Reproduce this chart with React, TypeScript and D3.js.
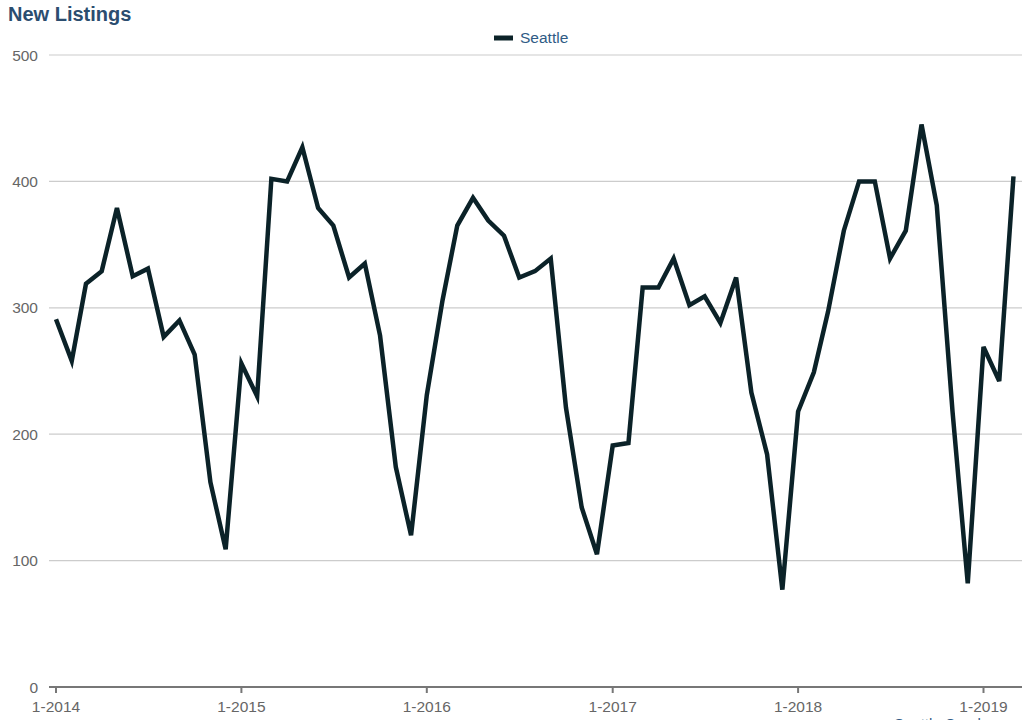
import React from "react";
import * as d3 from "d3";

const months: string[] = [
  "2014-01","2014-02","2014-03","2014-04","2014-05","2014-06","2014-07","2014-08","2014-09","2014-10","2014-11","2014-12",
  "2015-01","2015-02","2015-03","2015-04","2015-05","2015-06","2015-07","2015-08","2015-09","2015-10","2015-11","2015-12",
  "2016-01","2016-02","2016-03","2016-04","2016-05","2016-06","2016-07","2016-08","2016-09","2016-10","2016-11","2016-12",
  "2017-01","2017-02","2017-03","2017-04","2017-05","2017-06","2017-07","2017-08","2017-09","2017-10","2017-11","2017-12",
  "2018-01","2018-02","2018-03","2018-04","2018-05","2018-06","2018-07","2018-08","2018-09","2018-10","2018-11","2018-12",
  "2019-01","2019-02","2019-03",
];

const seattle: number[] = [
  291, 258, 319, 329, 379, 325, 331, 277, 290, 263, 162, 109,
  256, 230, 402, 400, 427, 379, 365, 324, 335, 278, 174, 120,
  231, 306, 365, 387, 369, 357, 324, 329, 339, 221, 142, 105,
  191, 193, 316, 316, 339, 302, 309, 288, 324, 233, 184, 77,
  218, 249, 297, 361, 400, 400, 339, 361, 445, 381, 218, 82,
  269, 242, 404,
];

const yTicks: number[] = [0, 100, 200, 300, 400, 500];
const xTickLabels: string[] = ["1-2014", "1-2015", "1-2016", "1-2017", "1-2018", "1-2019"];
const xTickMonths: string[] = ["2014-01", "2015-01", "2016-01", "2017-01", "2018-01", "2019-01"];

const parse = d3.timeParse("%Y-%m");

export default function App() {
  const W = 1024;
  const H = 720;
  const left = 49;
  const right = 1022;
  const x = d3
    .scaleTime()
    .domain([parse("2014-01")!, parse("2019-01")!])
    .range([56, 983.5]);
  const y = d3.scaleLinear().domain([0, 500]).range([687, 55]);

  const data = months.map((m, i) => ({ d: parse(m)!, v: seattle[i] }));
  const line = d3
    .line<{ d: Date; v: number }>()
    .x((p) => x(p.d))
    .y((p) => y(p.v));

  const font = "'Liberation Sans', Arial, Helvetica, sans-serif";

  return (
    <svg
      width={W}
      height={H}
      style={{ position: "absolute", left: 0, top: 0, background: "#fff" }}
      fontFamily={font}
    >
      <rect x={0} y={0} width={W} height={H} fill="#fff" />
      <text x={8} y={21} fontSize={20} fontWeight="bold" fill="#2b4d6f">
        New Listings
      </text>
      {/* legend */}
      <line x1={494} x2={513} y1={38} y2={38} stroke="#0b2228" strokeWidth={5} />
      <text x={520} y={43} fontSize={15.5} fill="#2f5b85">
        Seattle
      </text>
      {/* grid */}
      {yTicks.map((t) => (
        <g key={t}>
          {t > 0 && (
            <line x1={left} x2={right} y1={y(t)} y2={y(t)} stroke="#cccccc" strokeWidth={1.2} />
          )}
          <text x={38} y={y(t) + 5.5} fontSize={15.5} fill="#666" textAnchor="end">
            {t}
          </text>
        </g>
      ))}
      {/* x axis */}
      <line x1={left} x2={right} y1={y(0)} y2={y(0)} stroke="#777" strokeWidth={2} />
      {xTickMonths.map((m, i) => {
        const xx = x(parse(m)!);
        return (
          <g key={m}>
            <line x1={xx} x2={xx} y1={y(0)} y2={y(0) + 6} stroke="#777" strokeWidth={2} />
            <text x={xx} y={712} fontSize={15.5} fill="#666" textAnchor="middle">
              {xTickLabels[i]}
            </text>
          </g>
        );
      })}
      <path
        d={line(data) || ""}
        fill="none"
        stroke="#0b2228"
        strokeWidth={4.5}
        strokeLinejoin="miter"
        strokeMiterlimit={4}
      />
      <text x={894} y={729} fontSize={15} fill="#2f5b85">
        Seattle Condos
      </text>
    </svg>
  );
}
